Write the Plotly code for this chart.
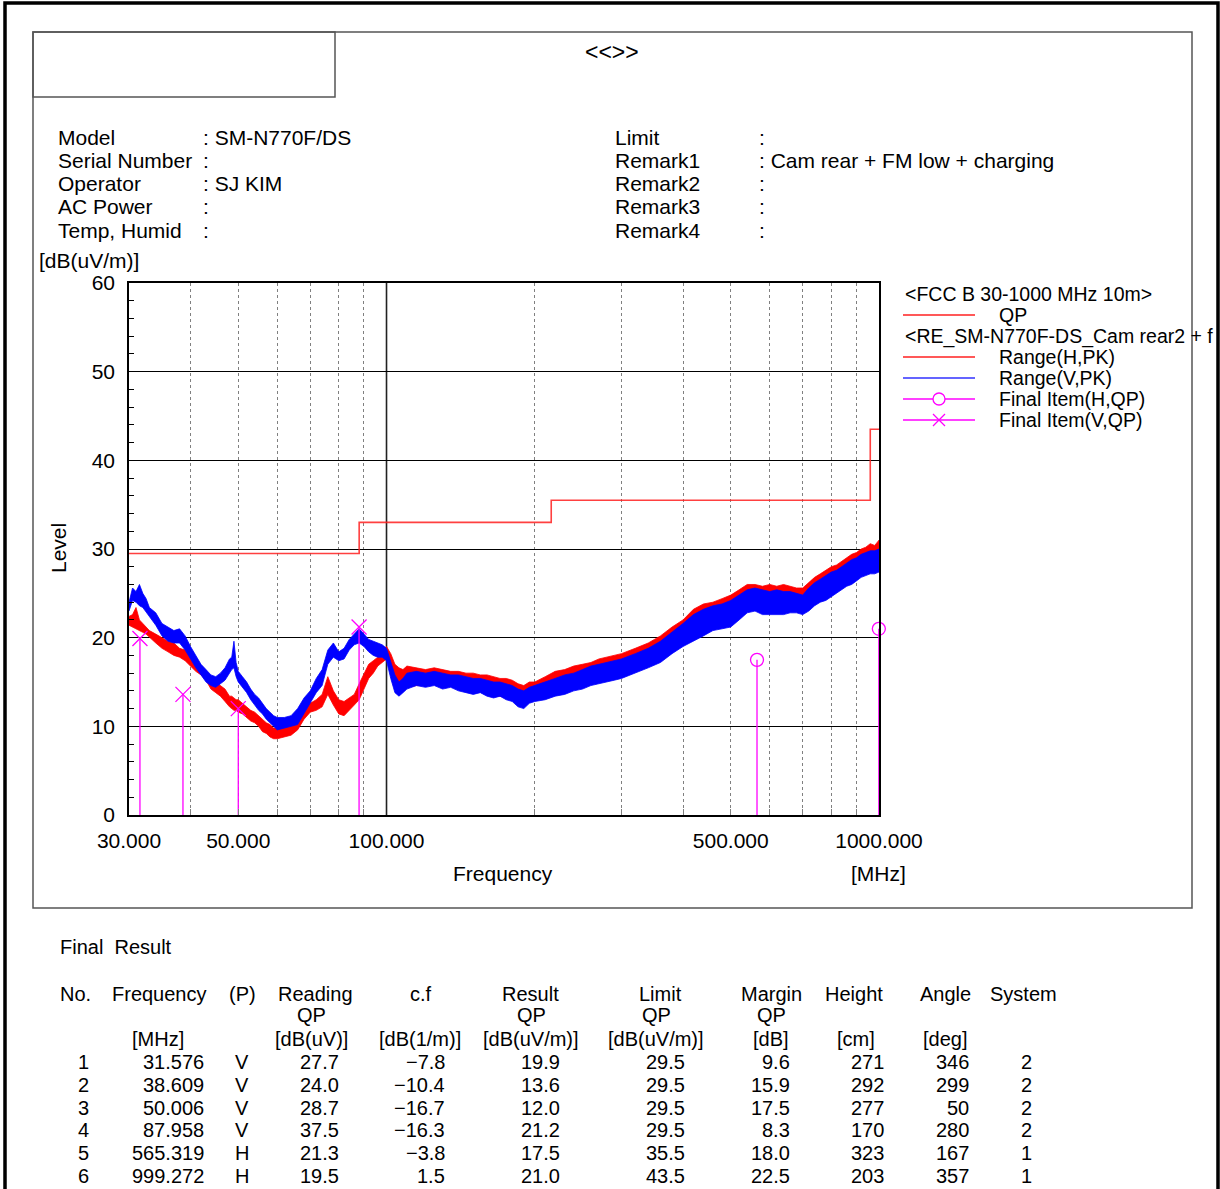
import plotly.graph_objects as go
import math

W, H = 1220, 1189

# ---------------- data ----------------
freq = [30, 30.5, 31, 31.5, 32, 32.5, 33,
        34, 35, 36, 37, 38, 39, 40, 41, 42, 43, 44, 45, 46, 47,
        48, 48.5, 49, 49.5, 50,
        51, 52, 53, 54, 55, 56, 57, 58, 59, 60,
        62, 64, 66, 68, 70, 72, 74, 76, 78, 80, 82, 84, 86, 88, 90, 92, 94, 96, 98, 100,
        102, 104, 106, 108, 110,
        115, 120, 125, 130, 135, 140, 145, 150, 155, 160, 165, 170, 175, 180, 185, 190, 195, 200,
        210, 220, 230, 240, 250, 260, 270, 280, 290, 300,
        320, 340, 360, 380, 400, 420, 440, 460, 480, 500,
        520, 540, 560, 580, 600, 620, 640, 660, 680, 700,
        720, 740, 760, 780, 800, 820, 840, 860, 880, 900, 920, 940, 960, 980, 1000]

v_lo = [23.0, 24.2, 24.0, 23.6, 23.4, 22.8, 22.4,
        21.4, 20.2, 19.6, 19.4, 19.4, 18.6, 17.6, 16.6, 15.8, 15.0, 14.6, 14.4, 14.8, 15.2,
        16.0, 16.4, 16.6, 15.6, 15.0,
        14.4, 13.8, 13.0, 12.4, 11.8, 11.4, 10.8, 10.4, 10.0, 9.6,
        9.8, 10.0, 10.2, 11.4, 12.6, 13.8, 14.6, 17.0, 17.8, 17.4, 17.6, 18.6, 19.2, 19.4, 19.0, 18.4, 18.0, 17.8, 17.8, 17.4,
        15.4, 13.8, 13.4, 13.8, 14.2,
        14.6, 14.4, 14.6, 14.2, 14.4, 14.0, 13.8, 13.6, 13.8, 13.4, 13.2, 13.4, 13.0, 12.8, 12.2, 12.0, 12.6, 12.8,
        13.0, 13.4, 13.6, 14.0, 14.2, 14.6, 14.8, 15.0, 15.2, 15.4,
        16.0, 16.6, 17.2, 18.2, 19.0, 19.6, 20.2, 20.8, 21.0, 21.2,
        22.0, 22.8, 23.0, 22.6, 22.6, 22.6, 22.6, 22.8, 22.8, 22.6,
        23.0, 23.6, 24.0, 24.2, 24.6, 25.0, 25.4, 25.8, 26.0, 26.4, 26.8, 27.0, 27.2, 27.2, 27.4]
v_hi = [24.0, 25.6, 25.2, 26.0, 25.0, 24.4, 23.4,
        22.8, 21.6, 21.2, 20.8, 21.0, 20.2, 19.0, 18.0, 17.0, 16.4, 15.8, 15.6, 16.0, 16.6,
        17.6, 17.8, 19.6, 17.2, 16.2,
        15.6, 15.0, 14.2, 13.6, 13.2, 12.6, 12.0, 11.6, 11.2, 11.0,
        11.0, 11.2, 12.0, 13.2, 14.0, 15.4, 16.4, 18.6, 19.4, 18.4, 18.8, 19.8, 20.4, 21.0, 20.4, 19.8, 19.6, 19.4, 19.2, 18.8,
        17.4, 15.8, 15.0, 15.4, 16.0,
        16.2, 16.0, 16.2, 16.0, 15.8, 15.8, 15.6, 15.4, 15.4, 15.2, 15.0, 15.0, 14.8, 14.6, 14.2, 14.0, 14.4, 14.6,
        15.0, 15.4, 15.8, 16.0, 16.4, 16.8, 17.0, 17.2, 17.4, 17.6,
        18.2, 18.8, 19.6, 20.6, 21.6, 22.6, 23.2, 23.6, 23.8, 24.2,
        24.8, 25.4, 25.6, 25.4, 25.2, 25.4, 25.2, 25.2, 25.0, 24.8,
        25.6, 26.2, 26.6, 27.0, 27.4, 27.6, 28.0, 28.4, 28.8, 29.0, 29.4, 29.6, 29.8, 29.8, 30.0]

h_lo = [21.4, 21.2, 21.0, 20.8, 20.6, 20.4, 20.0,
        19.4, 18.8, 18.4, 18.0, 17.8, 17.4, 16.8, 16.2, 15.8, 15.2, 14.2, 13.8, 13.4, 12.8,
        12.2, 12.0, 11.8, 11.8, 11.6,
        11.4, 11.0, 10.6, 10.4, 10.0, 9.4, 9.2, 8.8, 8.6, 8.6,
        8.8, 9.0, 9.6, 10.8, 11.6, 11.8, 12.2, 13.6, 12.4, 11.4, 11.2, 11.8, 12.4, 13.0, 14.2, 15.4, 16.0, 16.8, 17.2, 17.6,
        16.4, 15.0, 14.8, 14.6, 14.4,
        14.6, 14.6, 14.8, 14.4, 14.6, 14.2, 14.0, 13.8, 14.0, 13.6, 13.4, 13.4, 13.2, 13.0, 12.6, 12.4, 12.8, 13.0,
        13.2, 13.6, 13.8, 14.2, 14.4, 14.8, 15.0, 15.2, 15.4, 15.6,
        16.2, 16.8, 17.4, 18.4, 19.2, 19.8, 20.4, 21.0, 21.2, 21.6,
        22.2, 23.0, 23.2, 23.0, 23.0, 23.0, 23.0, 23.2, 23.2, 23.0,
        23.4, 24.0, 24.4, 24.6, 25.0, 25.4, 25.8, 26.2, 26.4, 26.8, 27.2, 27.4, 27.6, 27.6, 27.8]
h_hi = [22.4, 22.6, 23.4, 22.0, 21.6, 21.2, 20.8,
        20.4, 20.0, 19.6, 19.4, 18.8, 18.6, 18.0, 17.4, 16.8, 16.2, 15.4, 15.0, 14.6, 14.2,
        13.4, 13.4, 13.2, 13.0, 13.0,
        12.6, 12.2, 11.8, 11.6, 11.2, 10.8, 10.4, 10.2, 9.8, 9.8,
        10.0, 10.2, 11.2, 12.2, 12.6, 13.0, 13.6, 15.6, 14.0, 13.0, 12.8, 13.2, 13.6, 14.8, 16.0, 17.0, 17.4, 17.8, 18.6, 19.0,
        18.2, 17.0, 16.6, 16.4, 16.8,
        16.6, 16.4, 16.6, 16.4, 16.2, 16.2, 16.0, 16.0, 15.8, 15.8, 15.6, 15.4, 15.4, 15.2, 14.8, 14.6, 15.0, 15.0,
        15.6, 16.2, 16.4, 16.8, 17.0, 17.2, 17.6, 17.8, 18.0, 18.2,
        18.8, 19.4, 20.2, 21.2, 22.0, 23.2, 23.8, 24.0, 24.4, 24.8,
        25.4, 26.0, 26.0, 25.8, 26.0, 25.8, 26.0, 25.8, 25.6, 25.6,
        26.2, 26.8, 27.2, 27.6, 28.0, 28.2, 28.6, 29.0, 29.4, 29.6, 30.0, 30.2, 30.6, 30.4, 31.0]

limit_f = [30, 88, 216, 960, 1000]
limit_v = [29.5, 33.0, 35.5, 43.5, 43.5]

fin_no = [1, 2, 3, 4, 5, 6]
fin_freq = [31.576, 38.609, 50.006, 87.958, 565.319, 999.272]
fin_pol = ["V", "V", "V", "V", "H", "H"]
fin_read = [27.7, 24.0, 28.7, 37.5, 21.3, 19.5]
fin_cf = [-7.8, -10.4, -16.7, -16.3, -3.8, 1.5]
fin_result = [19.9, 13.6, 12.0, 21.2, 17.5, 21.0]
fin_limit = [29.5, 29.5, 29.5, 29.5, 35.5, 43.5]
fin_margin = [9.6, 15.9, 17.5, 8.3, 18.0, 22.5]
fin_height = [271, 292, 277, 170, 323, 203]
fin_angle = [346, 299, 50, 280, 167, 357]
fin_system = [2, 2, 2, 2, 1, 1]

x_tickvals = [30, 50, 100, 500, 1000]
x_ticktext = ["30.000", "50.000", "100.000", "500.000", "1000.000"]
x_minor = [40, 50, 60, 70, 80, 90, 200, 300, 400, 500, 600, 700, 800, 900]

# ---------------- helpers ----------------
def px(x):
    return x / W

def py(y):
    return 1 - y / H

SANS = "Liberation Sans, Arial, sans-serif"
TFONT = "Liberation Sans, Arial, sans-serif"
MAG = "#ff00ff"

fig = go.Figure()

# limit line
fig.add_trace(go.Scatter(x=limit_f, y=limit_v, mode="lines",
                         line=dict(color="rgba(255,30,30,0.85)", width=1.6, shape="hv"),
                         hoverinfo="skip", showlegend=False))

# H trace (red) band
fig.add_trace(go.Scatter(x=freq + freq[::-1], y=h_hi + h_lo[::-1], mode="lines", fill="toself",
                         fillcolor="#ff0000", line=dict(color="#ff0000", width=0.8), showlegend=False))
# V trace (blue) band
fig.add_trace(go.Scatter(x=freq + freq[::-1], y=v_hi + v_lo[::-1], mode="lines", fill="toself",
                         fillcolor="#0000ff", line=dict(color="#0000ff", width=0.8), showlegend=False))

# final item stems
sx, sy = [], []
for f, v in zip(fin_freq, fin_result):
    sx += [f, f, None]
    sy += [0, v, None]
fig.add_trace(go.Scatter(x=sx, y=sy, mode="lines", line=dict(color=MAG, width=1.3), showlegend=False))
hx = [f for f, p in zip(fin_freq, fin_pol) if p == "H"]
hy = [v for v, p in zip(fin_result, fin_pol) if p == "H"]
vx = [f for f, p in zip(fin_freq, fin_pol) if p == "V"]
vy = [v for v, p in zip(fin_result, fin_pol) if p == "V"]
fig.add_trace(go.Scatter(x=hx, y=hy, mode="markers", cliponaxis=False,
                         marker=dict(symbol="circle-open", size=13, color=MAG, line=dict(width=1.3, color=MAG)),
                         showlegend=False))
fig.add_trace(go.Scatter(x=vx, y=vy, mode="markers", cliponaxis=False,
                         marker=dict(symbol="x-thin-open", size=15, color=MAG, line=dict(width=1.3, color=MAG)),
                         showlegend=False))

shapes = []
annotations = []

def text(x, y, s, size=21, anchor="left", family=SANS):
    annotations.append(dict(x=px(x), y=py(y), xref="paper", yref="paper", text=s, showarrow=False,
                            xanchor=anchor, yanchor="middle", font=dict(size=size, family=family, color="black")))

def pline(x0, y0, x1, y1, color="black", width=1):
    shapes.append(dict(type="line", xref="paper", yref="paper", x0=px(x0), y0=py(y0), x1=px(x1), y1=py(y1),
                       line=dict(color=color, width=width)))

# frames
shapes.append(dict(type="rect", xref="paper", yref="paper", x0=px(5), y0=py(3), x1=px(1218), y1=py(1200),
                   line=dict(color="black", width=3.5)))
shapes.append(dict(type="rect", xref="paper", yref="paper", x0=px(33), y0=py(32), x1=px(1192), y1=py(908),
                   line=dict(color="#555", width=1.5)))
shapes.append(dict(type="rect", xref="paper", yref="paper", x0=px(33), y0=py(32), x1=px(335), y1=py(97),
                   line=dict(color="#555", width=1.5)))
# solid 100 MHz grid line
shapes.append(dict(type="line", xref="x", yref="y", x0=100, x1=100, y0=0, y1=60,
                   line=dict(color="#222", width=1.6), layer="below"))

text(612, 52, "&lt;&lt;&gt;&gt;", size=23, anchor="center")

# header info
left_labels = ["Model", "Serial Number", "Operator", "AC Power", "Temp, Humid"]
left_values = ["SM-N770F/DS", "", "SJ KIM", "", ""]
right_labels = ["Limit", "Remark1", "Remark2", "Remark3", "Remark4"]
right_values = ["", "Cam rear + FM low + charging", "", "", ""]
rows_y = [137, 160, 184, 207, 231]
for yy, lab, val in zip(rows_y, left_labels, left_values):
    text(56, yy, lab, size=21)
    text(201, yy, ": " + val if val else ":", size=21)
for yy, lab, val in zip(rows_y, right_labels, right_values):
    text(613, yy, lab, size=21)
    text(757, yy, ": " + val if val else ":", size=21)

text(37, 260, "[dB(uV/m)]", size=21)
annotations.append(dict(x=px(58), y=py(548), xref="paper", yref="paper", text="Level", showarrow=False,
                        textangle=-90, xanchor="center", yanchor="middle",
                        font=dict(size=21, family=SANS, color="black")))
text(503, 873, "Frequency", size=21, anchor="center")
text(878, 873, "[MHz]", size=21, anchor="center")

# legend
LS = 19.5
text(903, 294, "&lt;FCC B 30-1000 MHz 10m&gt;", size=LS)
pline(903, 315, 975, 315, "#ff2020", 1.3)
text(997, 315, "QP", size=LS)
text(903, 336, "&lt;RE_SM-N770F-DS_Cam rear2 + f", size=LS)
pline(903, 357, 975, 357, "#ff2020", 1.3)
text(997, 357, "Range(H,PK)", size=LS)
pline(903, 378, 975, 378, "#3030ff", 1.3)
text(997, 378, "Range(V,PK)", size=LS)
pline(903, 399, 975, 399, MAG, 1.3)
shapes.append(dict(type="circle", xref="paper", yref="paper", x0=px(933), x1=px(945), y0=py(393), y1=py(405),
                   line=dict(color=MAG, width=1.3), fillcolor="white"))
text(997, 399, "Final Item(H,QP)", size=LS)
pline(903, 420, 975, 420, MAG, 1.3)
pline(933, 414, 945, 426, MAG, 1.3)
pline(933, 426, 945, 414, MAG, 1.3)
text(997, 420, "Final Item(V,QP)", size=LS)

# table
TS = 20
text(58, 947, "Final  Result", size=TS, family=TFONT)
hdr = [("No.", 58, "left"), ("Frequency", 110, "left"), ("(P)", 227, "left"), ("Reading", 315, "center"),
       ("c.f", 421, "center"), ("Result", 530, "center"), ("Limit", 660, "center"), ("Margin", 771, "center"),
       ("Height", 854, "center"), ("Angle", 945, "center"), ("System", 1023, "center")]
for s, x, a in hdr:
    text(x, 994, s, size=TS, anchor=a, family=TFONT)
for x in [311, 531, 656, 771]:
    text(x, 1015, "QP", size=TS, anchor="center", family=TFONT)
units = [("[MHz]", 158), ("[dB(uV)]", 311), ("[dB(1/m)]", 420), ("[dB(uV/m)]", 531), ("[dB(uV/m)]", 656),
         ("[dB]", 771), ("[cm]", 856), ("[deg]", 945)]
for s, x in units:
    text(x, 1039, s, size=TS, anchor="center", family=TFONT)

row_y = [1062, 1085, 1108, 1130, 1153, 1176]
for i in range(len(fin_no)):
    yy = row_y[i]
    text(91, yy, str(fin_no[i]), size=TS, anchor="right", family=TFONT)
    text(206, yy, f"{fin_freq[i]:.3f}", size=TS, anchor="right", family=TFONT)
    text(242, yy, fin_pol[i], size=TS, anchor="center", family=TFONT)
    text(341, yy, f"{fin_read[i]:.1f}", size=TS, anchor="right", family=TFONT)
    text(447, yy, f"{fin_cf[i]:.1f}".replace("-", "−"), size=TS, anchor="right", family=TFONT)
    text(562, yy, f"{fin_result[i]:.1f}", size=TS, anchor="right", family=TFONT)
    text(687, yy, f"{fin_limit[i]:.1f}", size=TS, anchor="right", family=TFONT)
    text(792, yy, f"{fin_margin[i]:.1f}", size=TS, anchor="right", family=TFONT)
    text(886, yy, str(fin_height[i]), size=TS, anchor="right", family=TFONT)
    text(971, yy, str(fin_angle[i]), size=TS, anchor="right", family=TFONT)
    text(1034, yy, str(fin_system[i]), size=TS, anchor="right", family=TFONT)

fig.update_layout(
    width=W, height=H, autosize=False,
    margin=dict(l=0, r=0, t=0, b=0),
    paper_bgcolor="white", plot_bgcolor="white",
    showlegend=False, hovermode=False,
    shapes=shapes, annotations=annotations,
    font=dict(family=SANS, color="black"),
    xaxis=dict(type="log", range=[math.log10(30), 3], domain=[px(129), px(879)],
               tickmode="array", tickvals=x_tickvals, ticktext=x_ticktext,
               ticks="", showgrid=False, zeroline=False,
               showline=True, linecolor="black", linewidth=1.5, mirror=True,
               tickfont=dict(size=21, family=SANS, color="black"), ticklabelstandoff=6,
               automargin=False,
               minor=dict(tickmode="array", tickvals=x_minor, showgrid=True, griddash="dot",
                          gridcolor="#808080", gridwidth=1.2, ticks="inside", ticklen=6, tickcolor="#808080")),
    yaxis=dict(range=[0, 60], domain=[py(815), py(283)],
               tickmode="array", tickvals=[0, 10, 20, 30, 40, 50, 60],
               ticks="inside", ticklen=7, tickcolor="black",
               showgrid=True, gridcolor="black", gridwidth=1, zeroline=False,
               showline=True, linecolor="black", linewidth=1.5, mirror=True,
               tickfont=dict(size=21, family=SANS, color="black"), ticklabelstandoff=8,
               automargin=False,
               minor=dict(dtick=2, ticks="inside", ticklen=5, tickcolor="black", showgrid=False)),
)

fig.write_html("out.html", config={"displayModeBar": False},
               post_script="document.body.style.margin='0px';")
